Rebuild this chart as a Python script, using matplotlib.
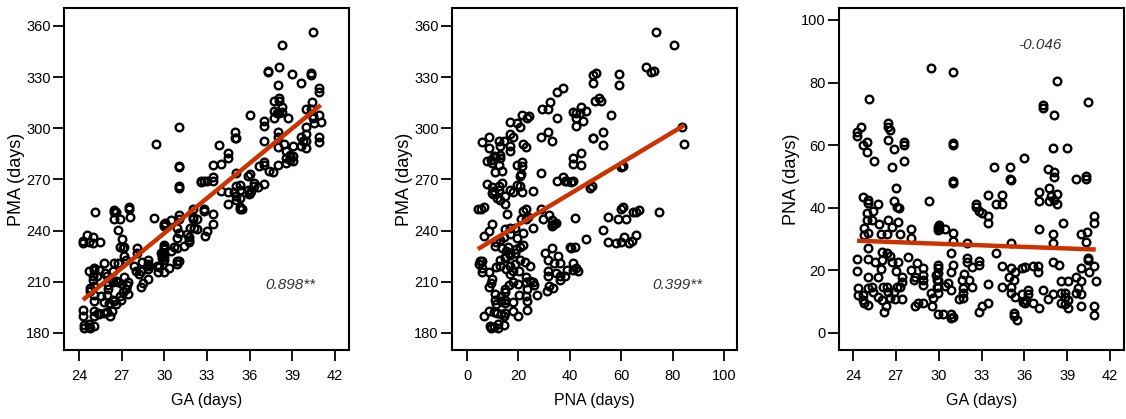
import matplotlib
matplotlib.use('Agg')
import matplotlib.pyplot as plt
import numpy as np

# gestational age (weeks, axis says days) and postnatal age (days)
ga = [
    29.44, 25.14, 24.56, 24.28, 24.28, 26.43, 26.43, 26.59, 25.0, 24.72, 25.0, 25.45,
    26.43, 26.87, 27.55, 27.55, 27.59, 26.73,
    31.03, 31.03, 31.03, 33.87, 35.0, 36.0, 35.0, 31.03,
    38.29, 37.28, 37.28, 38.05, 40.43, 38.03, 39.0, 37.68, 38.08, 38.08, 39.6, 40.3, 40.3,
    27.01, 24.72, 25.07, 25.07, 25.73, 26.9, 27.1, 27.2, 29.3, 25.4, 25.0, 25.0, 25.3,
    25.8, 26.43, 27.13, 26.71, 24.75, 24.75, 25.07, 25.96, 26.36, 27.3, 28.06, 28.06,
    29.97, 29.97, 25.03, 24.28, 25.03, 25.54, 26.05, 26.05, 26.36, 26.59, 26.71, 25.96,
    24.28, 27.18, 26.99, 27.88, 28.46, 28.88, 28.88, 28.88, 28.88, 28.03, 28.36, 28.24,
    27.46, 25.03, 25.77, 24.37, 24.37, 24.72, 25.07, 25.31, 25.42, 25.77, 26.1, 26.36,
    26.47, 27.06, 27.29, 26.9, 27.41, 24.72, 25.03, 24.8, 26.0, 26.59, 26.94, 26.33,
    26.17, 27.46, 28.34, 28.53, 28.88, 29.46, 29.63, 29.56, 29.86, 29.8, 29.86,
    31.03, 35.05, 33.44, 34.46, 34.46, 34.0, 32.59, 32.59, 32.82, 33.01, 33.43, 33.43,
    30.02, 30.02, 30.44, 31.03, 31.03, 32.0, 35.05, 30.86, 34.0, 32.0, 32.0, 32.82, 32.82,
    29.98, 29.98, 29.98, 29.98, 29.98, 29.98, 31.03, 30.86, 32.3, 31.8, 31.6, 32.1, 32.3,
    31.73, 31.73, 31.73, 31.42, 30.68, 30.86, 30.44, 34.46, 35.07, 35.87, 35.34, 34.93,
    35.3, 33.43, 34.46, 35.07, 35.07, 35.34, 35.87, 35.94, 36.1, 33.43, 33.01, 32.85,
    29.98, 30.33, 30.86, 30.86, 31.03, 35.3, 35.3, 35.47,
    37.03, 37.03, 37.73, 37.9, 37.7, 38.1, 38.3, 38.3, 40.88, 40.88, 38.73, 37.03,
    38.03, 38.03, 40.0, 40.4, 40.3, 40.43, 40.43, 38.03, 38.43, 36.63, 36.98, 36.98,
    36.04, 40.0, 40.5, 40.88, 41.0, 39.6, 40.0, 39.78, 39.6, 40.0, 38.57, 39.03,
    37.33, 38.03, 38.57, 38.85, 38.85, 39.08, 38.85, 38.57, 37.64, 37.03, 36.59,
    36.28, 36.28, 36.04, 39.03, 40.0, 40.88, 40.88,
]
pna = [
    84.6, 74.7, 65.8, 64.2, 63.0, 67.0, 65.9, 64.7, 61.1, 60.1, 57.9, 55.0,
    61.7, 58.9, 60.9, 60.1, 55.0, 53.0,
    83.5, 60.8, 60.1, 53.0, 53.0, 56.0, 49.2, 48.7,
    80.6, 72.8, 71.8, 69.6, 73.7, 59.0, 59.0, 52.3, 51.5, 49.7, 49.2, 50.2, 49.1,
    46.2, 43.4, 42.5, 41.4, 41.2, 42.1, 40.4, 39.9, 42.1, 39.1, 38.2, 36.1, 36.1,
    34.7, 36.1, 35.4, 34.0, 33.4, 31.3, 31.9, 31.6, 31.6, 31.5, 33.2, 30.2,
    34.0, 32.9, 27.1, 23.5, 23.5, 22.8, 26.0, 23.3, 25.5, 24.6, 22.8, 20.3,
    19.8, 22.8, 19.9, 24.4, 22.5, 20.7, 18.5, 16.9, 15.3, 20.1, 18.0, 16.9,
    17.8, 17.8, 17.8, 14.3, 12.1, 12.1, 14.3, 14.8, 13.2, 11.6, 14.6, 14.8,
    13.2, 14.6, 14.8, 13.2, 16.4, 10.5, 8.9, 9.5, 10.5, 11.1, 10.8, 8.6,
    6.7, 10.8, 8.6, 9.5, 9.7, 12.9, 11.1, 8.6, 16.9, 18.5, 14.8,
    47.8, 48.9, 44.2, 44.2, 41.2, 41.2, 41.2, 40.4, 39.1, 38.2, 37.4, 35.2,
    34.5, 33.1, 33.1, 31.9, 29.4, 28.7, 28.7, 25.7, 25.5, 23.9, 22.8, 23.0, 21.7,
    21.7, 20.7, 19.1, 16.9, 14.8, 12.7, 21.7, 19.6, 21.0, 18.8, 16.9, 16.9, 14.6,
    14.3, 12.7, 11.1, 10.8, 15.9, 13.7, 15.0, 21.4, 20.7, 20.7, 19.6, 18.0,
    16.9, 15.7, 14.6, 14.6, 12.7, 11.6, 12.5, 10.0, 10.5, 9.7, 8.6, 6.8,
    6.0, 6.0, 6.0, 4.7, 5.2, 6.5, 5.4, 4.2,
    45.1, 42.3, 46.2, 43.8, 42.3, 42.5, 44.4, 41.2, 37.5, 35.2, 35.2, 33.1,
    31.5, 28.7, 31.5, 32.4, 29.2, 24.1, 23.3, 22.8, 21.7, 21.4, 21.4, 19.6,
    21.0, 20.7, 19.6, 21.4, 16.7, 17.8, 16.7, 14.3, 12.7, 12.5, 16.7, 16.7,
    13.7, 12.5, 12.7, 12.7, 11.4, 10.5, 9.3, 9.7, 10.8, 7.9, 9.7,
    13.7, 12.5, 9.7, 7.9, 8.6, 8.7, 5.8,
]
ga = np.array(ga)
pna = np.array(pna)
pma = ga * 7 + pna  # postmenstrual age = GA (weeks) * 7 + PNA

r_labels = ['0.898**', '0.399**', '-0.046']

plt.rcParams['font.family'] = ['Liberation Sans', 'DejaVu Sans']

fig = plt.figure(figsize=(11.26, 4.19), dpi=100)
W, H = 1126, 419


def make_ax(left, right, top=8, bottom=350):
    return fig.add_axes([left / W, (H - bottom) / H, (right - left) / W, (bottom - top) / H])


ax1 = make_ax(64, 349)
ax2 = make_ax(452, 737)
ax3 = make_ax(839, 1124)

line_color = '#cc3300'
panels = [
    (ax1, ga, pma, 'GA (days)', 'PMA (days)', (22.945, 42.99), (170.03, 370.55),
     range(24, 43, 3), range(180, 361, 30), (0.793, 0.19)),
    (ax2, pna, pma, 'PNA (days)', 'PMA (days)', (-5.84, 105.1), (170.03, 370.55),
     range(0, 101, 20), range(180, 361, 30), (0.789, 0.19)),
    (ax3, ga, pna, 'GA (days)', 'PNA (days)', (23.02, 42.98), (-5.43, 103.8),
     range(24, 43, 3), range(0, 101, 20), (0.705, 0.893)),
]

for (ax, x, y, xl, yl, xlim, ylim, xt, yt, txy), lab in zip(panels, r_labels):
    ax.plot(x, y, 'o', ms=5.5, mfc='none', mec='black', mew=1.7, zorder=2)
    k, b = np.polyfit(x, y, 1)
    xs = np.array([x.min(), x.max()])
    ax.plot(xs, k * xs + b, color=line_color, lw=3.2, solid_capstyle='butt', zorder=3)
    ax.set_xlim(*xlim)
    ax.set_ylim(*ylim)
    ax.set_xticks(list(xt))
    ax.set_yticks(list(yt))
    ax.set_xlabel(xl, fontsize=11.5, labelpad=7)
    ax.set_ylabel(yl, fontsize=13, labelpad=1)
    ax.tick_params(axis='x', labelsize=10.5, length=8, width=1.3, direction='out', pad=6)
    ax.tick_params(axis='y', labelsize=10.5, length=8, width=1.3, direction='out', pad=1.5)
    for s in ax.spines.values():
        s.set_linewidth(1.5)
    ax.text(txy[0], txy[1], lab, transform=ax.transAxes, ha='center', va='center',
            fontsize=11, style='italic', color='#333333')

fig.savefig('out.png', dpi=100)
plt.close(fig)
